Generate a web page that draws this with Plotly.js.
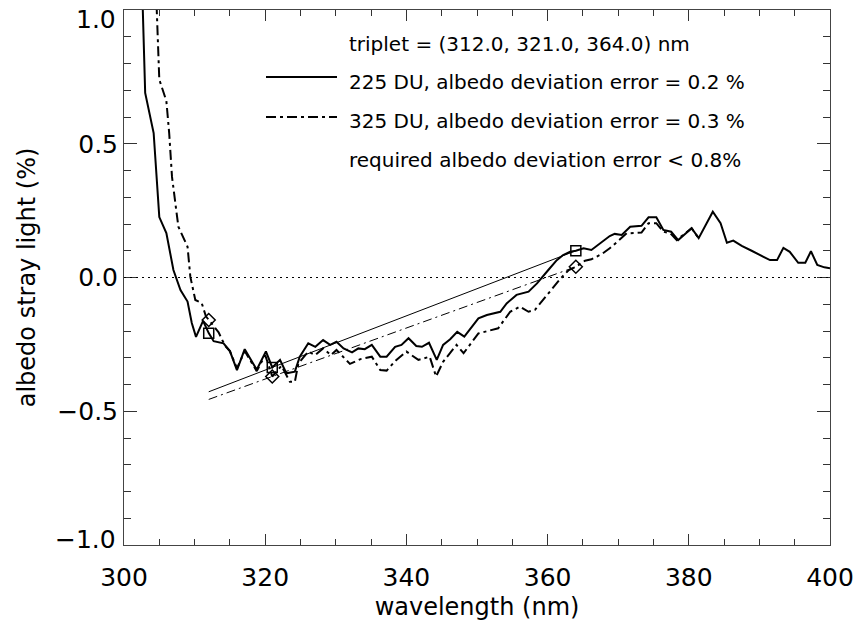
<!DOCTYPE html>
<html>
<head>
<meta charset="utf-8">
<script src="https://cdn.plot.ly/plotly-3.0.1.min.js"></script>
<style>html,body{margin:0;padding:0;background:#fff;}#chart{width:860px;height:621px;}</style>
</head>
<body>
<div id="chart"></div>
<script>
// 225 DU series (solid)
const wl225 = [302.5,303.0,304.2,305.0,306.0,307.0,308.0,309.0,309.6,310.2,311.2,312.0,312.7,314.1,315.0,316.0,317.1,318.8,320.1,321.0,322.1,323.0,324.2,324.9,326.1,327.1,328.2,329.2,330.1,331.1,332.3,333.2,334.1,335.1,336.3,337.2,338.4,339.3,340.3,341.4,342.2,343.2,344.3,345.2,346.2,347.2,348.2,350.2,351.4,353.3,354.2,355.6,357.3,358.5,360.1,361.3,362.2,363.2,364.0,365.1,366.2,367.4,368.8,369.5,370.5,371.7,373.3,374.3,375.4,376.4,377.5,378.5,379.5,380.4,381.4,383.4,384.5,385.4,386.3,387.5,388.9,390.1,391.5,392.5,393.4,394.3,395.5,396.5,397.3,398.2,399.2,400.0];
const v225 = [1.15,0.69,0.54,0.226,0.166,0.028,-0.047,-0.09,-0.17,-0.222,-0.162,-0.208,-0.238,-0.246,-0.275,-0.346,-0.268,-0.345,-0.276,-0.336,-0.308,-0.358,-0.352,-0.296,-0.246,-0.259,-0.234,-0.252,-0.24,-0.265,-0.28,-0.265,-0.268,-0.252,-0.296,-0.296,-0.259,-0.252,-0.227,-0.256,-0.259,-0.244,-0.308,-0.252,-0.231,-0.203,-0.221,-0.153,-0.14,-0.128,-0.097,-0.065,-0.053,-0.022,0.028,0.065,0.084,0.096,0.10,0.109,0.103,0.128,0.155,0.163,0.159,0.19,0.193,0.225,0.225,0.178,0.171,0.14,0.165,0.184,0.147,0.246,0.203,0.13,0.138,0.118,0.10,0.084,0.065,0.065,0.111,0.096,0.055,0.055,0.098,0.047,0.038,0.035];

// 325 DU series (dash-dot)
const wl325 = [304.5,305.0,306.0,306.4,306.8,307.7,309.0,309.4,310.1,311.0,311.6,312.0,313.4,314.3,315.0,316.0,317.1,318.8,320.0,321.0,322.3,323.5,324.2,324.7,326.1,327.1,328.2,329.3,330.1,332.0,333.5,335.1,336.3,337.2,338.5,340.0,341.7,343.3,344.2,345.2,347.1,348.1,350.2,353.0,354.7,356.1,357.3,358.2,359.9,361.8,363.0,364.0,365.3,366.2,367.7,368.8,371.2,373.3,374.3,375.4,376.4,377.4,378.3,379.5,380.4,381.4];
const v325 = [1.1,0.74,0.66,0.54,0.376,0.19,0.115,0.002,-0.084,-0.095,-0.145,-0.159,-0.205,-0.255,-0.275,-0.34,-0.275,-0.35,-0.29,-0.37,-0.33,-0.39,-0.39,-0.321,-0.277,-0.29,-0.265,-0.29,-0.271,-0.323,-0.305,-0.296,-0.346,-0.348,-0.31,-0.277,-0.308,-0.296,-0.37,-0.315,-0.252,-0.283,-0.209,-0.19,-0.128,-0.109,-0.128,-0.121,-0.065,-0.005,0.028,0.04,0.063,0.068,0.088,0.109,0.165,0.168,0.203,0.203,0.171,0.165,0.14,0.165,0.184,0.147];

// triplet wavelengths and values at them
const triplet = [312.0, 321.0, 364.0];
const tri225 = [-0.208, -0.336, 0.10];
const tri325 = [-0.159, -0.37, 0.04];

const xTicks = [300, 320, 340, 360, 380, 400];
const yTicks = [-1.0, -0.5, 0.0, 0.5, 1.0];

const legendTexts = [
  'triplet = (312.0, 321.0, 364.0) nm',
  '225 DU, albedo deviation error = 0.2 %',
  '325 DU, albedo deviation error = 0.3 %',
  'required albedo deviation error < 0.8%'
];

// straight line through the 2nd and 3rd triplet points, extended to the 1st
function refLine(tri) {
  const slope = (tri[2] - tri[1]) / (triplet[2] - triplet[1]);
  return { x: [triplet[0], triplet[2]], y: [tri[1] + slope * (triplet[0] - triplet[1]), tri[2]] };
}
const ref225 = refLine(tri225);
const ref325 = refLine(tri325);

const FONT = '"DejaVu Sans", "Liberation Sans", sans-serif';
const L = 124, T = 10, W = 706, H = 535;
const px = v => (v - L) / W;
const py = v => (T + H - v) / H;

const dd = '10px,4px,3px,4px';
const yLabel = v => (v < 0 ? '\u2212' : '') + Math.abs(v).toFixed(1);
const yMin = yTicks[0], yMax = yTicks[yTicks.length - 1];

const traces = [
  { x: wl225, y: v225, mode: 'lines', line: { color: '#000', width: 2 }, hoverinfo: 'skip' },
  { x: wl325, y: v325, mode: 'lines', line: { color: '#000', width: 2, dash: dd }, hoverinfo: 'skip' },
  { x: ref225.x, y: ref225.y, mode: 'lines', line: { color: '#000', width: 1 } },
  { x: ref325.x, y: ref325.y, mode: 'lines', line: { color: '#000', width: 1, dash: '9px,4px,2px,4px' } },
  { x: triplet, y: tri225, mode: 'markers', marker: { symbol: 'square-open', size: 10, color: '#000', line: { width: 1.5, color: '#000' } } },
  { x: triplet, y: tri325, mode: 'markers', marker: { symbol: 'diamond-open', size: 10, color: '#000', line: { width: 1.5, color: '#000' } } }
];

const annY = [44, 82, 121, 160];
const annotations = legendTexts.map((t, i) => ({
  text: t, xref: 'paper', yref: 'paper', x: px(347), y: py(annY[i]),
  xanchor: 'left', yanchor: 'middle', showarrow: false,
  font: { family: FONT, size: 20, color: '#000' }
}));
// end labels of the y axis, nudged inward so they are not cut by the page edge
[[yMax, -9], [yMin, 6]].forEach(([v, sh]) => annotations.push({
  text: yLabel(v), xref: 'paper', yref: 'y', x: 0, y: v, xshift: -6, yshift: sh,
  xanchor: 'right', yanchor: 'middle', showarrow: false,
  font: { family: FONT, size: 25, color: '#000' }
}));

const shapes = [
  { type: 'line', xref: 'paper', yref: 'y', x0: 0, x1: 1, y0: 0, y1: 0, line: { color: '#000', width: 1, dash: '2px,4px' } },
  { type: 'line', xref: 'paper', yref: 'paper', x0: px(266), x1: px(337), y0: py(77), y1: py(77), line: { color: '#000', width: 2 } },
  { type: 'line', xref: 'paper', yref: 'paper', x0: px(266), x1: px(337), y0: py(117), y1: py(117), line: { color: '#000', width: 2, dash: dd } }
];

const axisCommon = {
  showgrid: false, zeroline: false, showline: true, linecolor: '#444', linewidth: 1,
  mirror: 'allticks', ticks: 'inside', tickcolor: '#333', tickwidth: 1,
  ticklabeloverflow: 'allow',
  tickfont: { family: FONT, size: 25, color: '#000' }
};

const layout = {
  width: 860, height: 621,
  margin: { l: L, r: 860 - L - W, t: T, b: 621 - T - H },
  paper_bgcolor: '#fff', plot_bgcolor: '#fff',
  showlegend: false,
  xaxis: Object.assign({}, axisCommon, {
    range: [300, 400], tickvals: xTicks, ticktext: xTicks.map(String), ticklen: 11,
    ticklabelstandoff: 10,
    minor: { dtick: 5, ticklen: 6, tickcolor: '#333', ticks: 'inside' },
    title: { text: 'wavelength (nm)', font: { family: FONT, size: 24, color: '#000' }, standoff: 8 }
  }),
  yaxis: Object.assign({}, axisCommon, {
    range: [yMin, yMax], tickvals: yTicks,
    ticktext: yTicks.map(v => (v === yMin || v === yMax) ? '' : yLabel(v)), ticklen: 13,
    minor: { dtick: 0.1, ticklen: 7, tickcolor: '#333', ticks: 'inside' },
    title: { text: 'albedo stray light (%)', font: { family: FONT, size: 24, color: '#000' }, standoff: 14 }
  }),
  annotations: annotations,
  shapes: shapes
};

Plotly.newPlot('chart', traces, layout, { staticPlot: true, displayModeBar: false });
</script>
</body>
</html>
